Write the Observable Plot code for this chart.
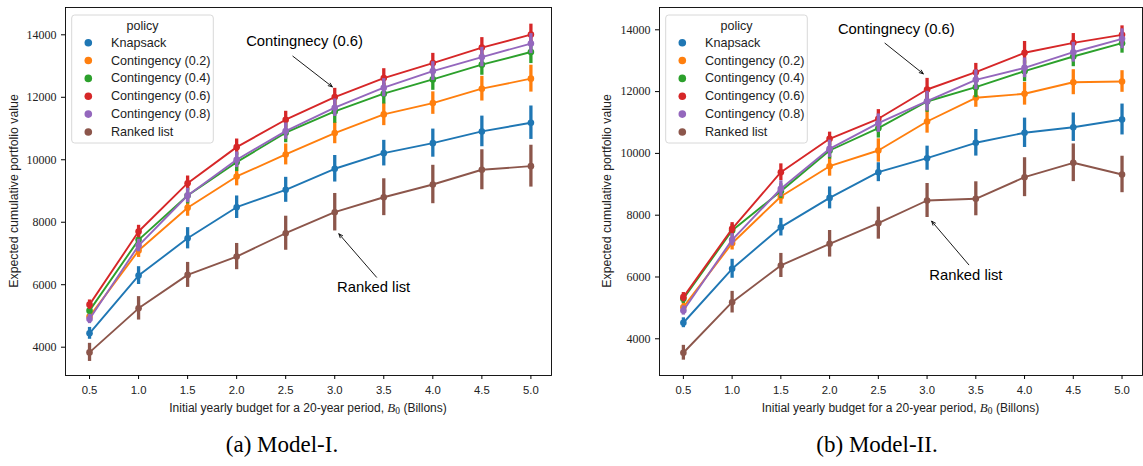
<!DOCTYPE html>
<html><head><meta charset="utf-8">
<script src="https://cdn.jsdelivr.net/npm/d3@7"></script>
<script src="https://cdn.jsdelivr.net/npm/@observablehq/plot@0.6"></script>
<style>
html,body{margin:0;padding:0;background:#fff}
body{width:1143px;height:466px;overflow:hidden;position:relative;font-family:"Liberation Sans",Arial,sans-serif}
#row{display:flex;position:absolute;left:0;top:0}
.cap{position:absolute;top:430px;font-family:"Liberation Serif","Times New Roman",serif;font-size:23px;line-height:30px;transform:translateX(-50%);white-space:nowrap;color:#000}
</style></head><body>
<div id="row"><div id="p1"></div><div id="p2"></div></div>
<div class="cap" style="left:282px">(a) Model-I.</div>
<div class="cap" style="left:877px">(b) Model-II.</div>
<script>
const budgets = [0.5, 1.0, 1.5, 2.0, 2.5, 3.0, 3.5, 4.0, 4.5, 5.0];
const policies = ["Knapsack", "Contingency (0.2)", "Contingency (0.4)", "Contingency (0.6)", "Contingency (0.8)", "Ranked list"];
const colors = ["#1f77b4", "#ff7f0e", "#2ca02c", "#d62728", "#9467bd", "#8c564b"];
const yTicks = [4000, 6000, 8000, 10000, 12000, 14000];

// Model-I means
const m1Knapsack = [4443, 6292, 7487, 8481, 9038, 9712, 10212, 10532, 10907, 11186];
const m1Cont02   = [4980, 7093, 8462, 9465, 10170, 10853, 11452, 11814, 12275, 12596];
const m1Cont04   = [5170, 7436, 8856, 9923, 10865, 11548, 12115, 12573, 13045, 13449];
const m1Cont06   = [5362, 7702, 9250, 10404, 11282, 12006, 12615, 13096, 13590, 14006];
const m1Cont08   = [4904, 7253, 8856, 10000, 10917, 11666, 12307, 12840, 13288, 13718];
const m1Ranked   = [3834, 5244, 6314, 6901, 7648, 8321, 8801, 9208, 9680, 9795];
// Model-I error half-widths
const m1KnapsackErr = [190, 285, 340, 360, 400, 425, 410, 450, 490, 535];
const m1Cont02Err   = [150, 220, 270, 300, 335, 340, 360, 360, 395, 430];
const m1Cont04Err   = [160, 230, 270, 300, 320, 380, 330, 350, 340, 370];
const m1Cont06Err   = [150, 200, 230, 260, 270, 280, 300, 310, 320, 335];
const m1Cont08Err   = [150, 200, 230, 250, 260, 280, 290, 300, 310, 320];
const m1RankedErr   = [290, 375, 400, 420, 545, 600, 590, 615, 640, 670];

// Model-II means
const m2Knapsack = [4519, 6266, 7612, 8560, 9392, 9845, 10343, 10667, 10848, 11097];
const m2Cont02   = [5023, 7094, 8606, 9586, 10094, 11033, 11800, 11929, 12304, 12327];
const m2Cont04   = [5295, 7505, 8777, 10094, 10816, 11680, 12143, 12660, 13136, 13567];
const m2Cont06   = [5347, 7560, 9392, 10473, 11120, 12068, 12628, 13256, 13579, 13838];
const m2Cont08   = [4916, 7204, 8855, 10149, 10978, 11690, 12382, 12770, 13275, 13709];
const m2Ranked   = [3548, 5185, 6373, 7075, 7742, 8476, 8531, 9230, 9696, 9318];
// Model-II error half-widths
const m2KnapsackErr = [160, 307, 285, 355, 307, 390, 430, 475, 460, 500];
const m2Cont02Err   = [150, 220, 250, 323, 378, 378, 307, 367, 405, 350];
const m2Cont04Err   = [150, 200, 240, 280, 320, 350, 340, 340, 330, 323];
const m2Cont06Err   = [150, 200, 270, 215, 297, 360, 285, 367, 300, 290];
const m2Cont08Err   = [150, 200, 260, 280, 300, 320, 320, 320, 320, 323];
const m2RankedErr   = [240, 350, 390, 430, 518, 550, 550, 630, 610, 590];

// Annotations (data coordinates)
const annotLabels = ["Contingnecy (0.6)", "Ranked list"];
const m1AnnotX = [2.692, 3.396], m1AnnotY = [13795, 5921];
const m1ArrowX1 = [2.573, 3.426], m1ArrowY1 = [13315, 6241];
const m1ArrowX2 = [2.975, 3.042], m1ArrowY2 = [12335, 7630];
const m2AnnotX = [2.684, 3.398], m2AnnotY = [14032, 6049];
const m2ArrowX1 = [2.568, 3.428], m2ArrowY1 = [13566, 6395];
const m2ArrowX2 = [2.961, 3.047], m2ArrowY2 = [12576, 7806];

const xLabelMain = "Initial yearly budget for a 20-year period, ";
const yLabel = "Expected cumulative portfolio value";

function panel(cfg) {
  const {means, errs, width, height, ml, mr, mt, mb, yDomain, ax, ay, a1x, a1y, a2x, a2y, yLabelX} = cfg;
  const marks = [Plot.frame({stroke: "#000", strokeWidth: 0.9})];
  policies.forEach((p, i) => {
    const d = budgets.map((b, j) => ({b, v: means[i][j], e: errs[i][j]}));
    marks.push(Plot.ruleX(d, {x: "b", y1: r => r.v - r.e, y2: r => r.v + r.e, stroke: colors[i], strokeWidth: 3.3}));
    marks.push(Plot.line(d, {x: "b", y: "v", stroke: colors[i], strokeWidth: 1.9}));
    marks.push(Plot.dot(d, {x: "b", y: "v", fill: colors[i], r: 3.3}));
  });
  const ann = annotLabels.map((t, k) => ({t, x: ax[k], y: ay[k], x1: a1x[k], y1: a1y[k], x2: a2x[k], y2: a2y[k]}));
  marks.push(Plot.arrow(ann, {x1: "x1", y1: "y1", x2: "x2", y2: "y2", stroke: "#000", strokeWidth: 0.9, headLength: 7, headAngle: 45}));
  marks.push(Plot.text(ann, {x: "x", y: "y", text: "t", fontSize: 14.8, fill: "#000"}));
  marks.push(Plot.axisX({ticks: budgets, tickFormat: d3.format(".1f"), tickSize: 4, tickPadding: 6, label: null, fontSize: 11.3}));
  marks.push(Plot.axisY({ticks: yTicks, tickFormat: d3.format("d"), tickSize: 4, tickPadding: 5, label: null, fontSize: 12}));

  const svg = Plot.plot({
    width, height, marginLeft: ml, marginRight: mr, marginTop: mt, marginBottom: mb,
    x: {domain: [0.255, 5.21]},
    y: {domain: yDomain},
    style: {fontFamily: '"Liberation Sans", Arial, sans-serif', color: "#000", background: "#fff", overflow: "visible"},
    marks
  });
  const s = d3.select(svg);
  s.selectAll('[aria-label="y-axis tick label"] text').attr("font-family", '"Liberation Serif", "Times New Roman", serif').attr("fill", "#222");
  s.selectAll('[aria-label="x-axis tick label"] text').attr("fill", "#222");

  // axis labels
  const fcx = ml + (width - ml - mr) / 2;
  const xl = s.append("text").attr("x", fcx).attr("y", 411.5).attr("text-anchor", "middle")
    .attr("font-size", 12).attr("fill", "#222").attr("font-family", '"Liberation Sans", Arial, sans-serif');
  xl.append("tspan").text(xLabelMain);
  xl.append("tspan").attr("font-family", '"Liberation Serif", serif').attr("font-style", "italic").attr("font-size", 13).text("B");
  xl.append("tspan").attr("font-family", '"Liberation Serif", serif').attr("font-size", 9.5).attr("dy", 2.5).text("0");
  xl.append("tspan").attr("dy", -2.5).text(" (Billons)");

  const fcy = mt + (height - mt - mb) / 2;
  s.append("text").attr("transform", `translate(${yLabelX},${fcy}) rotate(-90)`).attr("text-anchor", "middle")
    .attr("dominant-baseline", "central").attr("font-size", 12.3).attr("fill", "#222").text(yLabel);

  // legend
  const lx = ml + 6.7, ly = 15, lw = 141.6, lh = 128;
  const g = s.append("g");
  g.append("rect").attr("x", lx).attr("y", ly).attr("width", lw).attr("height", lh).attr("rx", 3)
    .attr("fill", "#fff").attr("fill-opacity", 0.85).attr("stroke", "#d4d4d4").attr("stroke-width", 0.9);
  g.append("text").attr("x", lx + lw / 2).attr("y", 25.5).attr("text-anchor", "middle").attr("dominant-baseline", "central")
    .attr("font-size", 12.5).attr("fill", "#222").text("policy");
  policies.forEach((p, i) => {
    const yy = 42.7 + i * 17.85;
    g.append("circle").attr("cx", lx + 16.6).attr("cy", yy).attr("r", 3.8).attr("fill", colors[i]);
    g.append("text").attr("x", lx + 39.3).attr("y", yy).attr("text-anchor", "start").attr("dominant-baseline", "central")
      .attr("font-size", 12.6).attr("fill", "#222").text(p);
  });
  return svg;
}

document.getElementById("p1").appendChild(panel({
  means: [m1Knapsack, m1Cont02, m1Cont04, m1Cont06, m1Cont08, m1Ranked],
  errs: [m1KnapsackErr, m1Cont02Err, m1Cont04Err, m1Cont06Err, m1Cont08Err, m1RankedErr],
  width: 571, height: 420, ml: 65, mr: 20, mt: 7, mb: 45, yDomain: [3094, 14874],
  ax: m1AnnotX, ay: m1AnnotY, a1x: m1ArrowX1, a1y: m1ArrowY1, a2x: m1ArrowX2, a2y: m1ArrowY2, yLabelX: 14
}));
document.getElementById("p2").appendChild(panel({
  means: [m2Knapsack, m2Cont02, m2Cont04, m2Cont06, m2Cont08, m2Ranked],
  errs: [m2KnapsackErr, m2Cont02Err, m2Cont04Err, m2Cont06Err, m2Cont08Err, m2RankedErr],
  width: 572, height: 420, ml: 88, mr: 1, mt: 7, mb: 45, yDomain: [2812, 14722],
  ax: m2AnnotX, ay: m2AnnotY, a1x: m2ArrowX1, a1y: m2ArrowY1, a2x: m2ArrowX2, a2y: m2ArrowY2, yLabelX: 35.7
}));
</script>
</body></html>
